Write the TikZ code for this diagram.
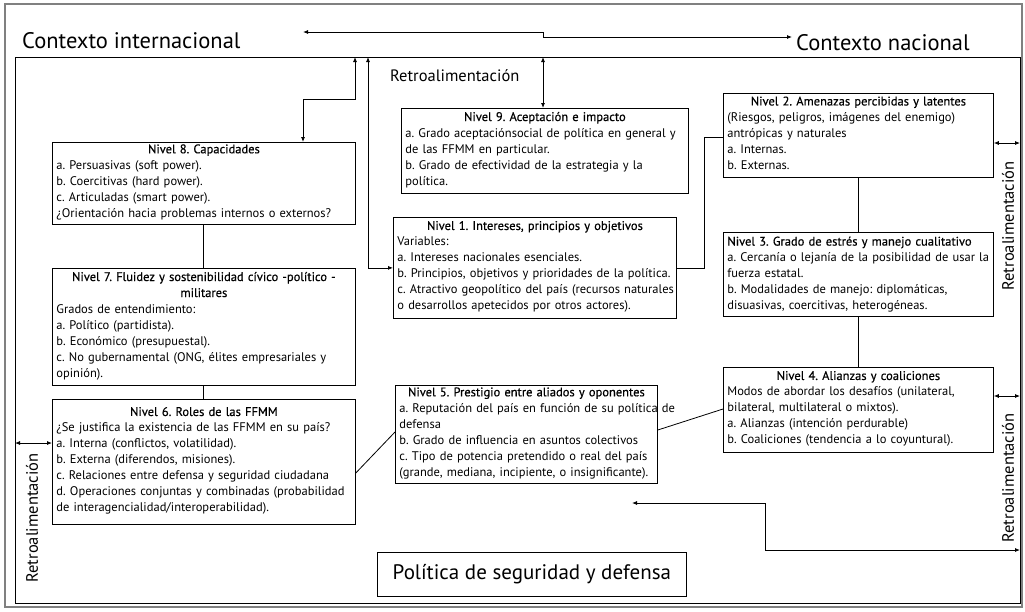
\documentclass[tikz,border=0pt]{standalone}
\usepackage{fontspec}
\setmainfont{PT Sans}
\newfontfamily\hdfont[FakeBold=0.5]{PT Sans}
\usetikzlibrary{arrows.meta,calc}
\frenchspacing
\newcommand\ttl[1]{\makebox[\linewidth][c]{\hdfont #1}}
\newcommand\lines[1]{\begin{tabular}[t]{@{}l@{}}#1\end{tabular}}
\begin{document}
\begin{tikzpicture}[x=1pt,y=-1pt,
  lvl/.style={draw, line width=0.8pt, anchor=north west, inner xsep=4pt, inner ysep=2pt,
    align=left, font=\fontsize{12.5}{16}\selectfont\frenchspacing},
  conn/.style={line width=0.8pt},
  dbl/.style={line width=0.8pt, {Latex[length=5pt,width=4pt]}-{Latex[length=5pt,width=4pt]}},
  big/.style={font=\fontsize{22.5}{26}\selectfont, inner sep=0pt},
  retro/.style={font=\fontsize{16.5}{19}\selectfont, inner sep=0pt}
]
\useasboundingbox (0,0) rectangle (1025,611);
\draw[gray, line width=1.2pt] (5,4) rectangle (1022,607);
\node[draw, line width=0.8pt, anchor=north west, inner sep=0pt, minimum width=1005pt, minimum height=546pt] (frame) at (15,57) {};

% titles
\node[big, anchor=base west] (cint) at (22,48) {Contexto internacional};
\node[big, anchor=base west] (cnac) at (796,50) {Contexto nacional};
\coordinate (ta) at (303,32);
\coordinate (tb) at (792,37);
\draw[dbl] (ta) -- (543,32) |- (tb);

\node[retro, anchor=base west] (rtop) at (390,81) {Retroalimentación};

% level boxes
\node[lvl, text width=295pt, minimum height=76pt] (n8) at (52,142)
 {\ttl{Nivel 8. Capacidades}\\ \lines{a. Persuasivas (soft power).\\ b. Coercitivas (hard power).\\ c. Articuladas (smart power).\\ ¿Orientación hacia problemas internos o externos?}};
\node[lvl, text width=295pt, minimum height=117pt] (n7) at (52,268)
 {\ttl{Nivel 7. Fluidez y sostenibilidad cívico -político -}\\ \ttl{militares}\\ \lines{Grados de entendimiento:\\ a. Político (partidista).\\ b. Económico (presupuestal).\\ c. No gubernamental (ONG, élites empresariales y\\ opinión).}};
\node[lvl, text width=295pt, minimum height=125pt] (n6) at (52,399)
 {\ttl{Nivel 6. Roles de las FFMM}\\ \lines{¿Se justifica la existencia de las FFMM en su país?\\ a. Interna (conflictos, volatilidad).\\ b. Externa (diferendos, misiones).\\ c. Relaciones entre defensa y seguridad ciudadana\\ d. Operaciones conjuntas y combinadas (probabilidad\\ de interagencialidad/interoperabilidad).}};
\node[lvl, text width=279pt, minimum height=85pt] (n9) at (401,108)
 {\ttl{Nivel 9. Aceptación e impacto}\\ \lines{a. Grado aceptaciónsocial de política en general y\\ de las FFMM en particular.\\ b. Grado de efectividad de la estrategia y la\\ política.}};
\node[lvl, text width=275pt, minimum height=101pt] (n1) at (393,217)
 {\ttl{Nivel 1. Intereses, principios y objetivos}\\ \lines{Variables:\\ a. Intereses nacionales esenciales.\\ b. Principios, objetivos y prioridades de la política.\\ c. Atractivo geopolítico del país (recursos naturales\\ o desarrollos apetecidos por otros actores).}};
\node[lvl, text width=254pt, minimum height=97pt] (n5) at (395,385)
 {\ttl{Nivel 5. Prestigio entre aliados y oponentes}\\ \lines{a. Reputación del país en función de su política de\\ defensa\\ b. Grado de influencia en asuntos colectivos\\ c. Tipo de potencia pretendido o real del país\\ (grande, mediana, incipiente, o insignificante).}};
\node[lvl, text width=262pt, minimum height=84pt] (n2) at (723,93)
 {\ttl{Nivel 2. Amenazas percibidas y latentes}\\ \lines{(Riesgos, peligros, imágenes del enemigo)\\ antrópicas y naturales\\ a. Internas.\\ b. Externas.}};
\node[lvl, text width=262pt, minimum height=81pt] (n3) at (723,232)
 {\lines{{\hdfont Nivel 3. Grado de estrés y manejo cualitativo}\\ a. Cercanía o lejanía de la posibilidad de usar la\\ fuerza estatal.\\ b. Modalidades de manejo: diplomáticas,\\ disuasivas, coercitivas, heterogéneas.}};
\node[lvl, text width=262pt, minimum height=85pt] (n4) at (723,367)
 {\ttl{Nivel 4. Alianzas y coaliciones}\\ \lines{Modos de abordar los desafíos (unilateral,\\ bilateral, multilateral o mixtos).\\ a. Alianzas (intención perdurable)\\ b. Coaliciones (tendencia a lo coyuntural).}};
\node[draw, line width=0.8pt, anchor=north west, minimum width=309pt, minimum height=44pt, inner sep=0pt,
  font=\fontsize{21}{25}\selectfont] (pol) at (377,552) {Política de seguridad y defensa};

% column helpers
\coordinate (c203) at (203,0);
\coordinate (c303) at (303,0);
\coordinate (c704) at (704,0);
\coordinate (c858) at (858,0);

% feedback arrows from the frame
\coordinate (fA) at (355,57);
\coordinate (fB) at (368,57);
\coordinate (fC) at (543,57);
\draw[dbl] (fA) -- (355,99) -| (n8.north -| c303);
\draw[dbl] (fB) |- (n1.west);
\draw[dbl] (fC) -- (n9.north -| fC);

% connectors
\draw[conn] (n8.south -| c203) -- (n7.north -| c203);
\draw[conn] (n7.south -| c203) -- (n6.north -| c203);
\draw[conn] (n1.east) -- (n1.east -| c704) |- ($(n2.north west)+(0,44)$);
\draw[conn] (n2.south -| c858) -- (n3.north -| c858);
\draw[conn] (n3.south -| c858) -- (n4.north -| c858);
\draw[conn] ($(n4.north west)+(0,42)$) -- ($(n5.north east)+(0,45)$);
\draw[conn] ($(n5.north west)+(0,47)$) -- ($(n6.north east)+(0,74)$);

% right feedback
\coordinate (fR1) at (1020,143);
\coordinate (fR2) at (1020,396);
\draw[dbl] (fR1 -| n2.east) -- (fR1);
\draw[dbl] (fR2 -| n4.east) -- (fR2);
\node[retro, rotate=90] (r1) at (1008,226) {Retroalimentación};
\node[retro, rotate=90] (r2) at (1008,478) {Retroalimentación};

% bottom feedback
\coordinate (la) at (632,503);
\coordinate (lb) at (1020,550);
\draw[dbl] (la) -- (765,503) |- (lb);

% left feedback
\coordinate (fL) at (15,443);
\draw[dbl] (fL) -- (fL -| n6.west);
\node[retro, rotate=90] (r3) at (32,518) {Retroalimentación};
\end{tikzpicture}
\end{document}
